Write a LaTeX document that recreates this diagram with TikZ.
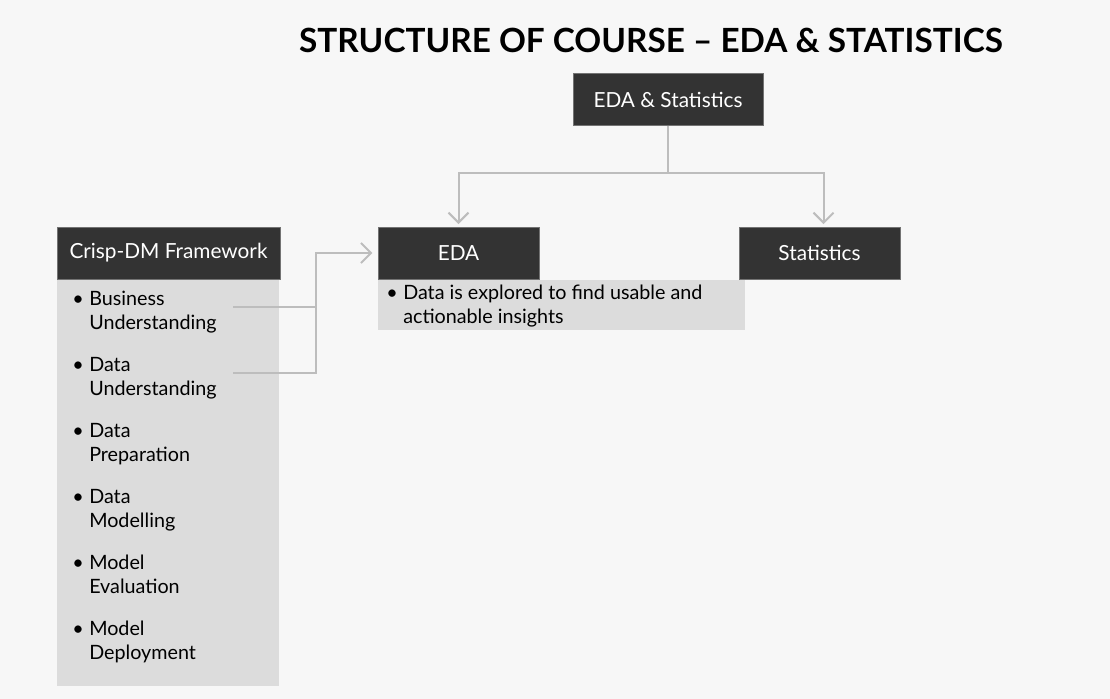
\documentclass[tikz,border=0pt]{standalone}
\usepackage{fontspec}
\setmainfont{Lato}
\usepackage{tikz}
\usepackage{xcolor}
\usetikzlibrary{positioning,arrows.meta,calc}
\definecolor{bgc}{HTML}{F7F7F7}
\definecolor{darkc}{HTML}{333333}
\definecolor{panelc}{HTML}{DCDCDC}
\definecolor{linec}{HTML}{BDBDBD}
\newcommand\bul{\llap{\textbullet\hspace{4pt}}}

\begin{document}
\begin{tikzpicture}[
          x=0.75pt, y=-0.75pt,
          head/.style={fill=darkc, draw=black!55, line width=0.4pt, text=white,
                       font=\fontsize{15.6}{18}\selectfont, inner sep=0pt,
                       minimum height=39pt},
          panel/.style={fill=panelc, draw=none, inner sep=0pt, anchor=north west},
          item/.style={anchor=north west, align=left, inner sep=0pt,
                       font=\fontsize{14.8}{18}\selectfont},
          conn/.style={linec, line width=1.5pt},
          arr/.style={conn, -{Straight Barb[length=7.5pt, width=15pt, line width=1.5pt]}}
      ]
        \fill[bgc] (0,0) rectangle (1110,699);
        \useasboundingbox (0,0) rectangle (1110,699);
        \node[font=\fontsize{25}{30}\selectfont\bfseries] (title) at (651,40) {STRUCTURE OF COURSE -- EDA \& STATISTICS};
        % top box and its two branches
        \node[head, minimum width=142.5pt] (top) at (668,99.5) {EDA \& Statistics};
        \node[head, minimum width=120.75pt] (eda) at (458.5,253) {EDA};
        \node[head, minimum width=120.75pt] (stats) at (819.5,253) {Statistics};
        \node[panel, minimum width=275.25pt, minimum height=37.5pt] (edap) at (378,279.5) {};
        \node[item] (edatxt) at (403,285) {\bul Data is explored to find usable and\\actionable insights};
        \coordinate (fork) at (top.south |- 0,173);
        \draw[conn] (top.south) -- (fork);
        \draw[arr] (fork) -| ([yshift=2pt]eda.north);
        \draw[arr] (fork) -| ([xshift=3pt, yshift=2pt]stats.north);
        % crisp-dm list
        \node[head, minimum width=167.25pt] (crisp) at (168.5,253) {Crisp-DM Framework};
        \node[panel, minimum width=166.5pt, minimum height=304.5pt] (crispp) at (57,279.5) {};
        \node[item] (bu) at (89,291) {\bul Business\\Understanding};
        \node[item] (du) at (89,357) {\bul Data\\Understanding};
        \node[item] (dp) at (89,423) {\bul Data\\Preparation};
        \node[item] (dm) at (89,489) {\bul Data\\Modelling};
        \node[item] (me) at (89,555) {\bul Model\\Evaluation};
        \node[item] (md) at (89,621) {\bul Model\\Deployment};
        % links into EDA
        \coordinate (buout) at (233,307);
        \coordinate (duout) at (233,373);
        \coordinate (join) at (316,307);
        \draw[conn] (buout) -- (join);
        \draw[conn] (duout) -| (join);
        \draw[arr] (join) |- ([xshift=-4pt]eda.west);
      \end{tikzpicture}
\end{document}
